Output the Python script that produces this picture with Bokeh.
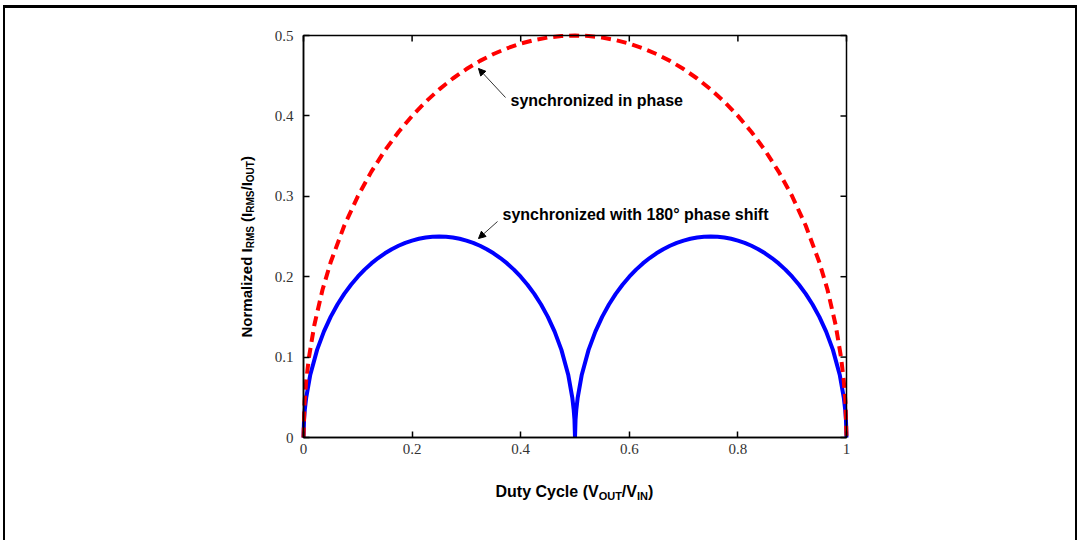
import math
from bokeh.plotting import figure
from bokeh.models import Range1d, Label, Arrow, NormalHead, FixedTicker, LinearAxis
from bokeh.embed import file_html
from bokeh.resources import INLINE

# ---------------- data ----------------
duty_in_phase = [0, 0.002, 0.005, 0.01, 0.02, 0.035, 0.05, 0.075, 0.1, 0.125, 0.15, 0.175,
                 0.2, 0.225, 0.25, 0.275, 0.3, 0.325, 0.35, 0.375, 0.4, 0.425, 0.45, 0.475,
                 0.5, 0.525, 0.55, 0.575, 0.6, 0.625, 0.65, 0.675, 0.7, 0.725, 0.75, 0.775,
                 0.8, 0.825, 0.85, 0.875, 0.9, 0.925, 0.95, 0.965, 0.98, 0.99, 0.995, 0.998, 1]
irms_in_phase = [0, 0.0447, 0.0705, 0.0995, 0.1400, 0.1838, 0.2179, 0.2634, 0.3000, 0.3307,
                 0.3571, 0.3800, 0.4000, 0.4176, 0.4330, 0.4465, 0.4583, 0.4684, 0.4770,
                 0.4841, 0.4899, 0.4943, 0.4975, 0.4994, 0.5000, 0.4994, 0.4975, 0.4943,
                 0.4899, 0.4841, 0.4770, 0.4684, 0.4583, 0.4465, 0.4330, 0.4176, 0.4000,
                 0.3800, 0.3571, 0.3307, 0.3000, 0.2634, 0.2179, 0.1838, 0.1400, 0.0995,
                 0.0705, 0.0447, 0]

duty_shift = [0, 0.001, 0.0025, 0.005, 0.0125, 0.025, 0.0375, 0.05, 0.0625, 0.075, 0.0875,
              0.1, 0.1125, 0.125, 0.1375, 0.15, 0.1625, 0.175, 0.1875, 0.2, 0.2125, 0.225,
              0.2375, 0.25, 0.2625, 0.275, 0.2875, 0.3, 0.3125, 0.325, 0.3375, 0.35, 0.3625,
              0.375, 0.3875, 0.4, 0.4125, 0.425, 0.4375, 0.45, 0.4625, 0.475, 0.4875, 0.495,
              0.4975, 0.499, 0.5,
              0.501, 0.5025, 0.505, 0.5125, 0.525, 0.5375, 0.55, 0.5625, 0.575, 0.5875, 0.6,
              0.6125, 0.625, 0.6375, 0.65, 0.6625, 0.675, 0.6875, 0.7, 0.7125, 0.725, 0.7375,
              0.75, 0.7625, 0.775, 0.7875, 0.8, 0.8125, 0.825, 0.8375, 0.85, 0.8625, 0.875,
              0.8875, 0.9, 0.9125, 0.925, 0.9375, 0.95, 0.9625, 0.975, 0.9875, 0.995, 0.9975,
              0.999, 1]
irms_shift = [0, 0.0223, 0.0352, 0.0497, 0.0781, 0.1090, 0.1317, 0.1500, 0.1654, 0.1786,
              0.1900, 0.2000, 0.2088, 0.2165, 0.2232, 0.2291, 0.2342, 0.2385, 0.2421, 0.2449,
              0.2472, 0.2487, 0.2497, 0.2500, 0.2497, 0.2487, 0.2472, 0.2449, 0.2421, 0.2385,
              0.2342, 0.2291, 0.2232, 0.2165, 0.2088, 0.2000, 0.1900, 0.1786, 0.1654, 0.1500,
              0.1317, 0.1090, 0.0781, 0.0497, 0.0352, 0.0223, 0,
              0.0223, 0.0352, 0.0497, 0.0781, 0.1090, 0.1317, 0.1500, 0.1654, 0.1786,
              0.1900, 0.2000, 0.2088, 0.2165, 0.2232, 0.2291, 0.2342, 0.2385, 0.2421, 0.2449,
              0.2472, 0.2487, 0.2497, 0.2500, 0.2497, 0.2487, 0.2472, 0.2449, 0.2421, 0.2385,
              0.2342, 0.2291, 0.2232, 0.2165, 0.2088, 0.2000, 0.1900, 0.1786, 0.1654, 0.1500,
              0.1317, 0.1090, 0.0781, 0.0497, 0.0352, 0.0223, 0]

x_ticks = [0, 0.2, 0.4, 0.6, 0.8, 1]
x_tick_labels = ["0", "0.2", "0.4", "0.6", "0.8", "1"]
y_ticks = [0, 0.1, 0.2, 0.3, 0.4, 0.5]
y_tick_labels = ["0", "0.1", "0.2", "0.3", "0.4", "0.5"]

label_in_phase = "synchronized in phase"
label_shift = "synchronized with 180\u00b0 phase shift"
x_label_parts = [("Duty Cycle (V", False), ("OUT", True), ("/V", False), ("IN", True), (")", False)]
y_label_parts = [("Normalized I", False), ("RMS", True), (" (I", False), ("RMS", True),
                 ("/I", False), ("OUT", True), (")", False)]

# ---------------- layout (page pixels) ----------------
X_MIN, X_MAX, Y_MIN, Y_MAX = 0, 1, 0, 0.5
W, H = 1074, 535            # canvas size
CX, CY = 5, 8               # canvas origin on the page
FL, FR, FT, FB = 303, 846, 35, 437   # data box edges on the page
kx = (FR - FL) / (X_MAX - X_MIN)
ky = (FB - FT) / (Y_MAX - Y_MIN)


def dx(px):
    return X_MIN + (px - FL) / kx


def dy(py):
    return Y_MIN + (FB - py) / ky


p = figure(width=W, height=H,
           x_range=Range1d(dx(CX), dx(CX + W)), y_range=Range1d(dy(CY + H), dy(CY)),
           x_axis_location=None, y_axis_location=None, min_border=0,
           output_backend="svg", toolbar_location=None)
p.styles = {"position": "absolute", "left": "3px", "top": "5px",
            "border-left": "2px solid black", "border-top": "3px solid black",
            "border-right": "2px solid black"}
p.grid.visible = False
p.outline_line_color = None
p.background_fill_color = "white"
p.border_fill_color = "white"

xax = LinearAxis(fixed_location=Y_MIN, bounds=(X_MIN, X_MAX), ticker=FixedTicker(ticks=x_ticks),
                 major_label_overrides=dict(zip(x_ticks, x_tick_labels)), major_label_standoff=6)
yax = LinearAxis(fixed_location=X_MIN, bounds=(Y_MIN, Y_MAX), ticker=FixedTicker(ticks=y_ticks),
                 major_label_overrides=dict(zip(y_ticks, y_tick_labels)), major_label_standoff=10)
p.add_layout(xax, "below")
p.add_layout(yax, "left")
for ax in (xax, yax):
    ax.major_tick_in = 6
    ax.major_tick_out = 0
    ax.minor_tick_in = 0
    ax.minor_tick_out = 0
    ax.axis_line_color = "black"
    ax.axis_line_width = 1.5
    ax.major_tick_line_color = "black"
    ax.major_tick_line_width = 1.5
    ax.major_label_text_font = "Liberation Serif"
    ax.major_label_text_font_size = "15px"
    ax.major_label_text_color = "#333333"

# curves
p.line(duty_shift, irms_shift, line_color="#0000FF", line_width=4)
p.line(duty_in_phase, irms_in_phase, line_color="#FF0000", line_width=4, line_dash="10 6")

# frame box with inward ticks on its top and right edges
p.quad(left=[X_MIN], right=[X_MAX], bottom=[Y_MIN], top=[Y_MAX], fill_color=None,
       line_color="black", line_width=1.5)
p.ray(x=x_ticks, y=[Y_MAX] * len(x_ticks), length=6, length_units="screen",
      angle=-math.pi / 2, line_color="black", line_width=1.5)
p.ray(x=[X_MAX] * len(y_ticks), y=y_ticks, length=6, length_units="screen",
      angle=math.pi, line_color="black", line_width=1.5)

# ---------------- annotations ----------------
FONT = "Liberation Sans"
p.add_layout(Label(x=dx(510), y=dy(100), text=label_in_phase, text_font=FONT,
                   text_font_style="bold", text_font_size="16px", text_baseline="middle",
                   text_color="black"))
p.add_layout(Label(x=dx(502), y=dy(214), text=label_shift, text_font=FONT,
                   text_font_style="bold", text_font_size="16px", text_baseline="middle",
                   text_color="black"))
p.add_layout(Arrow(end=NormalHead(size=7, fill_color="black", line_color="black", line_width=1),
                   x_start=dx(505), y_start=dy(97), x_end=dx(478), y_end=dy(68),
                   line_color="#333333", line_width=1))
p.add_layout(Arrow(end=NormalHead(size=7, fill_color="black", line_color="black", line_width=1),
                   x_start=dx(497), y_start=dy(221), x_end=dx(478), y_end=dy(238),
                   line_color="#333333", line_width=1))

AW = {" ": 278, "(": 333, ")": 333, "/": 278,
      "A": 722, "C": 722, "D": 722, "I": 278, "M": 833, "N": 722, "O": 778, "R": 722,
      "S": 667, "T": 611, "U": 722, "V": 667,
      "a": 556, "c": 556, "d": 611, "e": 556, "i": 278, "l": 278, "m": 889, "o": 611,
      "r": 389, "t": 333, "u": 611, "y": 556, "z": 500}


def twidth(s, size):
    return sum(AW.get(c, 556) for c in s) * size / 1000.0


def rich(parts, px, py, angle=0.0, size=16, sub=11, drop=4):
    """Place a label made of normal and subscript pieces, starting at page pixel (px, py)."""
    off = 0.0
    for txt, is_sub in parts:
        fs = sub if is_sub else size
        d = drop if is_sub else 0
        stripped = txt.lstrip(" ")
        off += twidth(txt[:len(txt) - len(stripped)], fs)   # leading blanks become offset
        if angle == 0:
            xo, yo = off, -d
        else:
            xo, yo = d, off
        p.add_layout(Label(x=dx(px), y=dy(py), x_offset=xo, y_offset=yo, text=stripped,
                           angle=angle, text_font=FONT, text_font_style="bold",
                           text_font_size=f"{fs}px", text_baseline="alphabetic",
                           text_align="left", text_color="black"))
        off += twidth(stripped, fs)


rich(x_label_parts, 495, 491, 0.0, 16, 11, 4)
rich(y_label_parts, 246, 337, math.pi / 2, 15, 10, 4)

open("out.html", "w").write(file_html(p, INLINE))
